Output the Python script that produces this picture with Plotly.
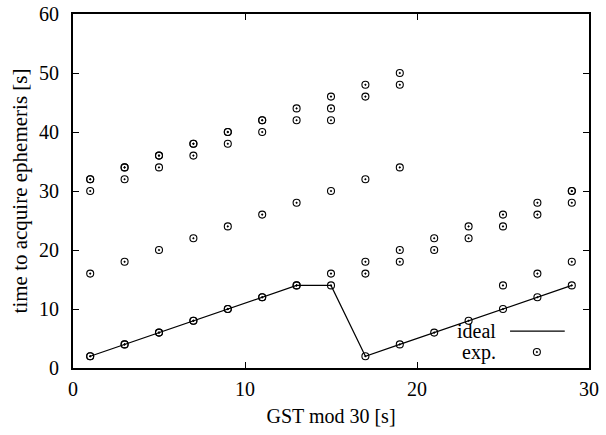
import plotly.graph_objects as go

# data
gst = [1, 3, 5, 7, 9, 11, 13, 15, 17, 19, 21, 23, 25, 27, 29]
ideal = [2, 4, 6, 8, 10, 12, 14, 14, 2, 4, 6, 8, 10, 12, 14]

exp_x = [
    1, 1, 1, 1, 1, 1,
    3, 3, 3, 3, 3, 3,
    5, 5, 5, 5, 5, 5,
    7, 7, 7, 7, 7, 7,
    9, 9, 9, 9, 9, 9,
    11, 11, 11, 11, 11, 11,
    13, 13, 13, 13, 13,
    15, 15, 15, 15, 15, 15,
    17, 17, 17, 17, 17, 17,
    19, 19, 19, 19, 19, 19,
    21, 21, 21,
    23, 23, 23,
    25, 25, 25, 25,
    27, 27, 27, 27,
    29, 29, 29, 29, 29,
]
exp_y = [
    2, 2, 16, 30, 32, 32,
    4, 4, 18, 32, 34, 34,
    6, 6, 20, 34, 36, 36,
    8, 8, 22, 36, 38, 38,
    10, 10, 24, 38, 40, 40,
    12, 12, 26, 40, 42, 42,
    14, 14, 28, 42, 44,
    14, 16, 30, 42, 44, 46,
    2, 16, 18, 32, 46, 48,
    4, 18, 20, 34, 48, 50,
    6, 20, 22,
    8, 22, 24,
    10, 14, 24, 26,
    12, 16, 26, 28,
    14, 18, 28, 30, 30,
]

x_ticks = [0, 10, 20, 30]
y_ticks = [0, 10, 20, 30, 40, 50, 60]

FONT = "Liberation Serif"

fig = go.Figure()
fig.add_trace(go.Scatter(x=gst, y=ideal, mode="lines",
                         line=dict(color="black", width=1.2), showlegend=False))
fig.add_trace(go.Scatter(x=exp_x, y=exp_y, mode="markers",
                         marker=dict(symbol="circle-dot", size=7, color="rgba(0,0,0,0)",
                                     line=dict(color="black", width=1.1)),
                         showlegend=False))
# legend sample point on an overlay paper-like axis
fig.add_trace(go.Scatter(x=[0.899], y=[0.045], mode="markers", xaxis="x2", yaxis="y2",
                         marker=dict(symbol="circle-dot", size=7, color="rgba(0,0,0,0)",
                                     line=dict(color="black", width=1.1)),
                         showlegend=False, hoverinfo="skip"))

axis_common = dict(showline=True, linecolor="black", linewidth=2, mirror="allticks",
                   ticks="inside", ticklen=6, tickwidth=1, tickcolor="black",
                   showgrid=False, zeroline=False, automargin=False,
                   tickfont=dict(family=FONT, size=20, color="black"))

fig.update_layout(
    width=606, height=435,
    margin=dict(l=73, r=17, t=14, b=67),
    plot_bgcolor="white", paper_bgcolor="white",
    font=dict(family=FONT, color="black"),
    xaxis=dict(range=[0, 30], tickvals=x_ticks, ticklabelstandoff=2,
               title=dict(text="GST mod 30 [s]", font=dict(family=FONT, size=20), standoff=10),
               **axis_common),
    yaxis=dict(range=[0, 60], tickvals=y_ticks, ticklabelstandoff=8,
               title=dict(text="time to acquire ephemeris [s]", font=dict(family=FONT, size=21), standoff=6),
               **axis_common),
    xaxis2=dict(range=[0, 1], overlaying="x", visible=False, anchor="y2", automargin=False),
    yaxis2=dict(range=[0, 1], overlaying="y", visible=False, anchor="x2", automargin=False),
    annotations=[
        dict(text="ideal", xref="paper", yref="paper", x=0.824, y=0.104,
             xanchor="right", yanchor="middle", showarrow=False,
             font=dict(family=FONT, size=20, color="black")),
        dict(text="exp.", xref="paper", yref="paper", x=0.824, y=0.045,
             xanchor="right", yanchor="middle", showarrow=False,
             font=dict(family=FONT, size=20, color="black")),
    ],
    shapes=[
        dict(type="line", xref="paper", yref="paper", x0=0.847, x1=0.953,
             y0=0.104, y1=0.104, line=dict(color="black", width=1.2)),
    ],
)

fig.write_html("out.html")
